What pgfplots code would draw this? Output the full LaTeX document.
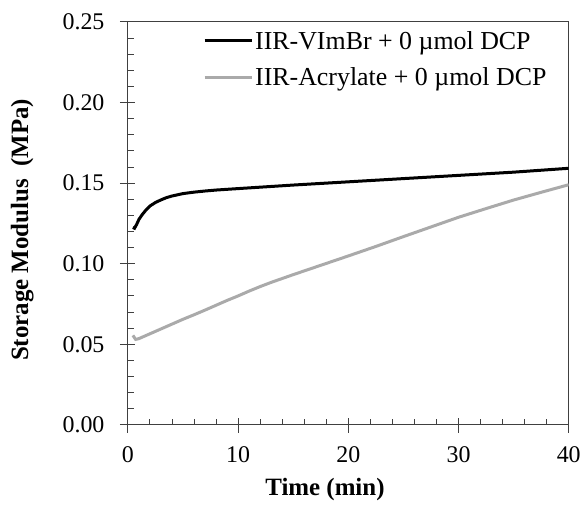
\documentclass[border=0pt]{standalone}
\usepackage{fontspec}
\setmainfont{Liberation Serif}
\usepackage{pgfplots}
\pgfplotsset{compat=1.18}
\definecolor{greyline}{RGB}{170,170,170}
\begin{document}
\begin{tikzpicture}
\begin{axis}[
  scale only axis, width=441bp, height=403bp,
  xmin=0, xmax=40, ymin=0, ymax=0.25,
  xtick={0,10,20,30,40}, ytick={0,0.05,0.10,0.15,0.20,0.25},
  xticklabels={}, yticklabels={},
  tick pos=left, tick align=outside, major tick length=8bp,
  axis line style={black!75, line width=1bp},
  tick style={black!75, line width=1bp},
]
\end{axis}
\begin{axis}[
  scale only axis, width=441bp, height=403bp,
  xmin=0, xmax=40, ymin=0, ymax=0.25,
  xtick={0,10,20,30,40}, ytick={0,0.05,0.10,0.15,0.20,0.25},
  minor x tick num=4, minor y tick num=4,
  tick pos=left,
  tick align=inside,
  major tick length=7bp, minor tick length=6bp,
  axis line style={black!75, line width=1bp},
  tick style={black!75, line width=1bp},
  /pgf/number format/assume math mode=true,
  yticklabel style={/pgf/number format/fixed, /pgf/number format/fixed zerofill, /pgf/number format/precision=2, font=\fontsize{24}{28}\selectfont, xshift=-20bp},
  xticklabel style={font=\fontsize{24}{28}\selectfont, yshift=-18bp},
  scaled y ticks=false,
  xlabel={\textbf{Time (min)}},
  ylabel={\textbf{Storage Modulus\ \ (MPa)}},
  label style={font=\fontsize{25}{29}\selectfont},
  xlabel style={at={(axis description cs:0.447,-0.161)}, anchor=center},
  ylabel style={at={(axis description cs:-0.240,0.484)}, anchor=center},
  legend image code/.code={\draw[#1] (0bp,0bp) -- (47bp,0bp);},
  legend style={draw=none, fill=none, at={(axis description cs:0.168,0.985)}, anchor=north west,
    font=\fontsize{26}{30}\selectfont, row sep=13bp, inner sep=1bp},
  legend cell align=left,
]
\addplot[black, line width=3bp] coordinates {
(0.45,0.1225) (0.6,0.1220) (0.8,0.1245) (1.0,0.1275) (1.3,0.1305) (1.6,0.1330) (2.0,0.1358)
(2.5,0.1380) (3.0,0.1396) (3.5,0.1410) (4.0,0.1420) (5.0,0.1435) (6.0,0.1444)
(7.0,0.1451) (8.0,0.1457) (10.0,0.1466) (12.5,0.1477) (15.0,0.1488) (17.5,0.1498)
(20.0,0.1508) (22.5,0.1518) (25.0,0.1528) (27.5,0.1538) (30.0,0.1548) (32.5,0.1558)
(35.0,0.1568) (37.5,0.1580) (40.0,0.1592)
};
\addlegendentry{IIR-VImBr + 0 µmol DCP}
\addplot[greyline, line width=3bp] coordinates {
(0.45,0.0555) (0.7,0.0530) (1.0,0.0535) (2.0,0.0565) (3.0,0.0595) (4.0,0.0625)
(5.0,0.0655) (6.0,0.0683) (7.0,0.0712) (8.0,0.0742) (9.0,0.0772) (10.0,0.0800)
(11.0,0.0830) (12.0,0.0858) (13.0,0.0884) (14.0,0.0908) (15.0,0.0932) (17.5,0.0990)
(20.0,0.1048) (22.5,0.1107) (25.0,0.1168) (27.5,0.1228) (30.0,0.1288) (32.5,0.1342)
(35.0,0.1395) (37.5,0.1443) (40.0,0.1490)
};
\addlegendentry{IIR-Acrylate + 0 µmol DCP}
\end{axis}
\path ([xshift=-128bp,yshift=-81bp]current axis.south west) rectangle ([xshift=15bp,yshift=22bp]current axis.north east);
\end{tikzpicture}
\end{document}
